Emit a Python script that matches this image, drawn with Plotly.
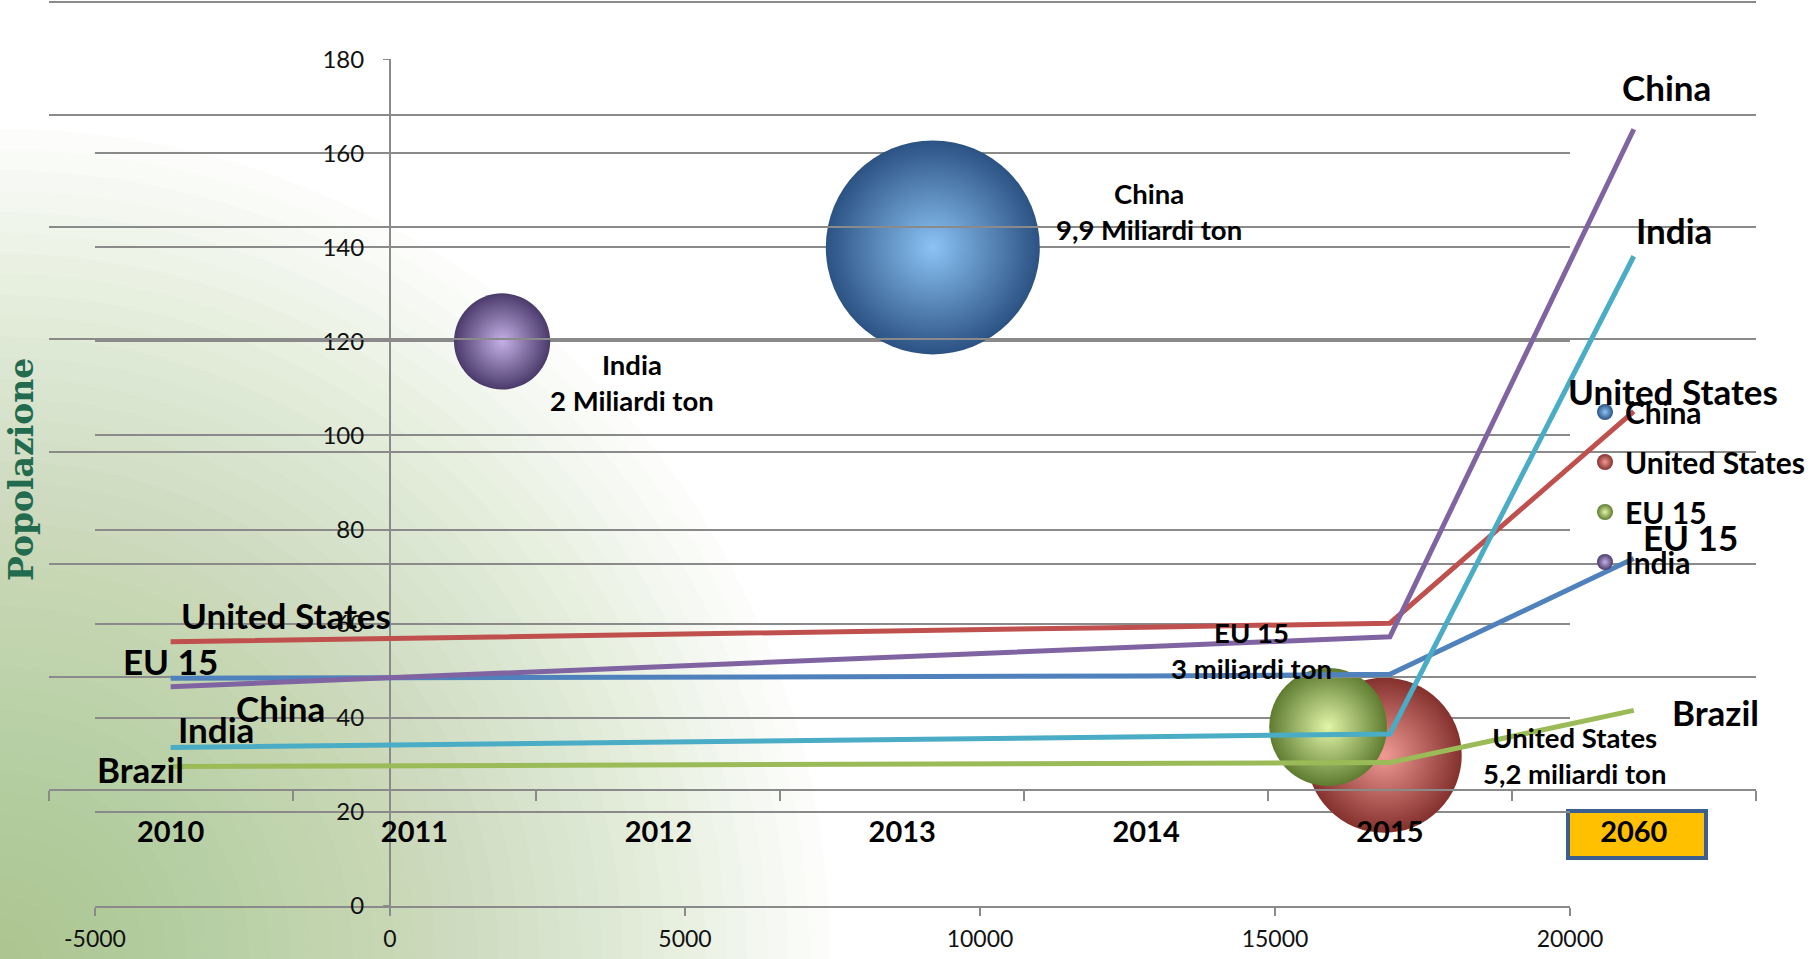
import plotly.graph_objects as go

# ---------------- data ----------------
# line chart (category axis)
years = ["2010", "2011", "2012", "2013", "2014", "2015", "2060"]
line_names = ["United States", "EU 15", "China", "India", "Brazil"]
us_line = [13.1, 13.4, 13.7, 14.0, 14.4, 14.75, 33.6]
eu_line = [9.86, 9.9, 9.9, 9.95, 10.05, 10.2, 20.5]
china_line = [9.1, 10.0, 10.9, 11.8, 12.7, 13.55, 58.7]
india_line = [3.7, 3.9, 4.15, 4.4, 4.65, 4.9, 47.4]
brazil_line = [2.0, 2.08, 2.14, 2.2, 2.27, 2.35, 7.0]
line_values = [us_line, eu_line, china_line, india_line, brazil_line]

# bubble chart
bubble_names = ["China", "United States", "EU 15", "India"]
bubble_x = [9200, 16850, 15900, 1900]
bubble_y = [140, 32, 38, 120]
bubble_size = [9.9, 5.2, 3.0, 2.0]  # miliardi ton
bubble_labels = ["China<br>9,9 Miliardi ton", "United States<br>5,2 miliardi ton",
                 "EU 15<br>3 miliardi ton", "India<br>2 Miliardi ton"]

x_ticks = [-5000, 0, 5000, 10000, 15000, 20000]
y_ticks = [0, 20, 40, 60, 80, 100, 120, 140, 160, 180]
y_title = "Popolazione"

# ---------------- styling ----------------
W, H = 1816, 959
FONT = "Lato"
GRID = "#8a8a8a"

line_colors = ["#C0504D", "#4F81BD", "#8064A2", "#4BACC6", "#9BBB59"]
bubble_edge = ["#2B5283", "#84302D", "#5E7C30", "#4A3A6A"]
bubble_center = ["#8CC3F5", "#F09A93", "#E2F5A8", "#C5B0E6"]


def px_x(p):
    return p / W


def px_y(p):
    return 1 - p / H


fig = go.Figure()

# bubbles
max_diam = 214.0
sizeref = 2.0 * max(bubble_size) / max_diam ** 2
for i, name in enumerate(bubble_names):
    fig.add_trace(go.Scatter(
        x=[bubble_x[i]], y=[bubble_y[i]], mode="markers", name=name,
        showlegend=False, cliponaxis=False, hoverinfo="skip",
        marker=dict(size=[bubble_size[i]], sizemode="area", sizeref=sizeref, opacity=1,
                    color=bubble_edge[i], line=dict(width=0),
                    gradient=dict(type="radial", color=bubble_center[i])),
        xaxis="x", yaxis="y"))
# legend entries for the bubble series (fixed-size symbols)
for i, name in enumerate(bubble_names):
    fig.add_trace(go.Scatter(
        x=[None], y=[None], mode="markers", name=name, legendgroup=name,
        marker=dict(size=17, color=bubble_edge[i], line=dict(width=0),
                    gradient=dict(type="radial", color=bubble_center[i])),
        xaxis="x", yaxis="y"))

# lines
for name, vals, col in zip(line_names, line_values, line_colors):
    fig.add_trace(go.Scatter(
        x=years, y=vals, mode="lines", name=name, showlegend=False,
        line=dict(color=col, width=5), cliponaxis=False, hoverinfo="skip",
        xaxis="x2", yaxis="y2"))

# ---------------- background gradient ----------------
shapes = []
N, R = 40, 830
cx, cy = 0, H
for k in range(N, 0, -1):
    r = R * k / N
    shapes.append(dict(type="circle", xref="paper", yref="paper", layer="below",
                       x0=px_x(cx - r), x1=px_x(cx + r), y0=px_y(cy + r), y1=px_y(cy - r),
                       fillcolor="rgba(143,174,92,0.027)", line=dict(width=0)))
# box around 2060 label
shapes.append(dict(type="rect", xref="paper", yref="paper", layer="below",
                   x0=px_x(1568), x1=px_x(1706), y0=px_y(858), y1=px_y(811),
                   fillcolor="#FFC000", line=dict(color="#3B5F8E", width=4)))

# ---------------- annotations ----------------
ann = []
bubble_shift = [(216, 36), (190, 0), (-77, 77), (130, -41)]
for i in range(len(bubble_names)):
    ann.append(dict(xref="x", yref="y", x=bubble_x[i], y=bubble_y[i], text=bubble_labels[i],
                    showarrow=False, xshift=bubble_shift[i][0], yshift=bubble_shift[i][1],
                    align="center", font=dict(family=FONT, size=27.5, color="black", weight="bold")))

left_shift = [(115, 27), (0, 17), (110, -21), (45, 18), (-30, -2)]
right_shift = [(39, 20), (57, 22), (33, 42), (40, 26), (82, -2)]
last = len(years) - 1
for i, name in enumerate(line_names):
    vals = line_values[i]
    ann.append(dict(xref="x2", yref="y2", x=0, y=vals[0], text=name, showarrow=False,
                    xshift=left_shift[i][0], yshift=left_shift[i][1],
                    font=dict(family=FONT, size=35, color="black", weight="bold")))
    ann.append(dict(xref="x2", yref="y2", x=last, y=vals[-1], text=name, showarrow=False,
                    xshift=right_shift[i][0], yshift=right_shift[i][1],
                    font=dict(family=FONT, size=35, color="black", weight="bold")))

ann.append(dict(xref="paper", yref="paper", x=px_x(21), y=px_y(470), text=y_title,
                textangle=-90, showarrow=False, xanchor="center", yanchor="middle",
                font=dict(family="DejaVu Serif", size=33, color="#226B4E", weight="bold")))

y2_top = 70.2
fig.update_layout(
    template="none",
    width=W, height=H, margin=dict(l=0, r=0, t=0, b=0, pad=0), autosize=False,
    paper_bgcolor="white", plot_bgcolor="rgba(0,0,0,0)",
    font=dict(family=FONT, color="black"),
    shapes=shapes, annotations=ann,
    showlegend=True,
    legend=dict(x=px_x(1585), y=px_y(386), xanchor="left", yanchor="top",
                bgcolor="rgba(0,0,0,0)", borderwidth=0, traceorder="grouped",
                tracegroupgap=8, itemsizing="trace",
                font=dict(family=FONT, size=30, color="black", weight="bold")),
    xaxis=dict(domain=[px_x(95), px_x(1570)], range=[-5000, 20000], anchor="y",
               automargin=False,
               tickvals=x_ticks, ticktext=[str(v) for v in x_ticks],
               showgrid=False, zeroline=False, showline=True, linecolor=GRID, linewidth=2,
               ticks="outside", ticklen=8, tickcolor=GRID, tickwidth=2,
               ticklabelstandoff=4,
               tickfont=dict(family=FONT, size=23, color="#111")),
    yaxis=dict(domain=[px_y(905.7), px_y(59.3)], range=[0, 180], anchor="free",
               automargin=False,
               position=px_x(390), tickvals=y_ticks,
               showgrid=True, gridcolor=GRID, gridwidth=1.6, zeroline=False,
               showline=True, linecolor=GRID, linewidth=2,
               ticks="outside", ticklen=6, tickcolor=GRID, ticklabelstandoff=14,
               tickfont=dict(family=FONT, size=24, color="#111")),
    xaxis2=dict(domain=[px_x(48.7), px_x(1755.7)], type="category", range=[-0.5, 6.5],
                anchor="y2", automargin=False, showgrid=False, zeroline=False, showline=True,
                linecolor=GRID, linewidth=2, ticks="outside", tickson="boundaries",
                ticklen=10, tickcolor=GRID, tickwidth=2, ticklabelstandoff=16,
                tickfont=dict(family=FONT, size=29, color="black", weight="bold")),
    yaxis2=dict(domain=[px_y(789), 1.0], range=[0, y2_top], dtick=10, anchor="x2",
                automargin=False,
                showgrid=True, gridcolor=GRID, gridwidth=1.6, zeroline=False,
                showline=False, showticklabels=False, ticks=""),
)

fig.write_html("out.html")
